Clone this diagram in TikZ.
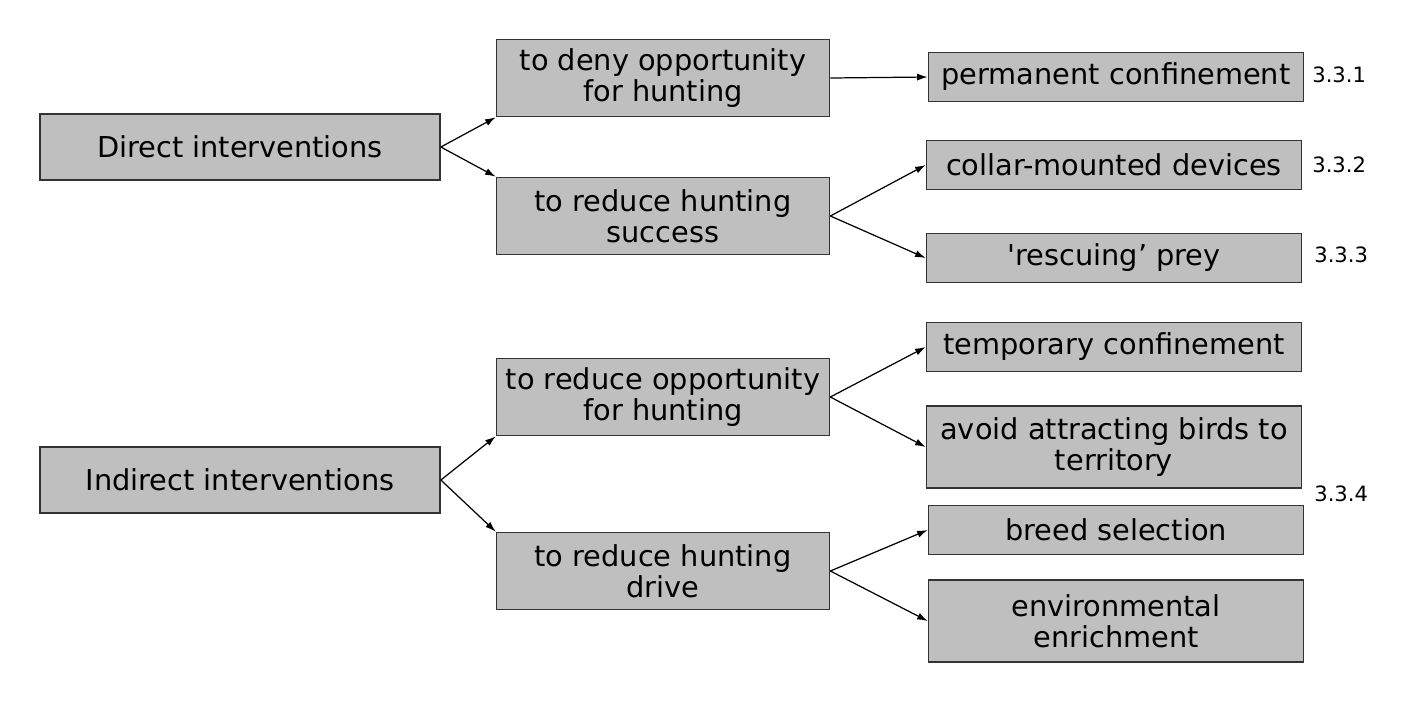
\documentclass[tikz,border=0pt]{standalone}
\usepackage{fontspec}
\setmainfont{DejaVu Sans}[Ligatures=TeXOff]
\usetikzlibrary{arrows.meta}

\begin{document}
\begin{tikzpicture}[x=0.02cm,y=-0.02cm,
	box/.style={draw=black!80,line width=1pt,fill=black!25,align=center,inner sep=0pt,
		font=\fontsize{16.4}{17.8}\selectfont},
	outer/.style={box,minimum width=8cm,minimum height=1.32cm},
	mid/.style={box,minimum width=6.66cm,minimum height=1.54cm},
	leaf/.style={box,minimum width=7.5cm,minimum height=0.98cm},
	leaftwo/.style={box,minimum width=7.5cm,minimum height=1.64cm},
	num/.style={anchor=west,inner sep=0pt,font=\fontsize{12}{14}\selectfont},
	link/.style={line width=0.7pt,-{Latex[length=6pt,width=4pt]}}]

	\useasboundingbox (0,0) rectangle (1412,718);

	\node[outer] (direct) at (240,147) {Direct interventions};
	\node[outer] (indirect) at (240,480) {Indirect interventions};

	\node[mid] (deny) at (663,78) {to deny opportunity\\for hunting};
	\node[mid] (success) at (663,216) {to reduce hunting\\success};
	\node[mid] (opport) at (663,397) {to reduce opportunity\\for hunting};
	\node[mid] (drive) at (663,571) {to reduce hunting\\drive};

	\node[leaf] (perm) at (1116,77) {permanent confinement};
	\node[leaf] (collar) at (1114,165) {collar-mounted devices};
	\node[leaf] (rescue) at (1114,258) {'rescuing’ prey};
	\node[leaf] (temp) at (1114,347) {temporary confinement};
	\node[leaftwo] (avoid) at (1114,447) {avoid attracting birds to\\territory};
	\node[leaf] (breed) at (1116,530) {breed selection};
	\node[leaftwo] (enrich) at (1116,621) {environmental\\enrichment};

	\node[num] (n1) at (1312,75) {3.3.1};
	\node[num] (n2) at (1312,165) {3.3.2};
	\node[num] (n3) at (1314,255) {3.3.3};
	\node[num] (n4) at (1314,494) {3.3.4};

	\draw[link] (direct.east) -- (deny.south west);
	\draw[link] (direct.east) -- (success.north west);
	\draw[link] (deny.east) -- (perm.west);
	\draw[link] (success.east) -- (collar.west);
	\draw[link] (success.east) -- (rescue.west);

	\draw[link] (indirect.east) -- (opport.south west);
	\draw[link] (indirect.east) -- (drive.north west);
	\draw[link] (opport.east) -- (temp.west);
	\draw[link] (opport.east) -- (avoid.west);
	\draw[link] (drive.east) -- (breed.west);
	\draw[link] (drive.east) -- (enrich.west);
\end{tikzpicture}
\end{document}
